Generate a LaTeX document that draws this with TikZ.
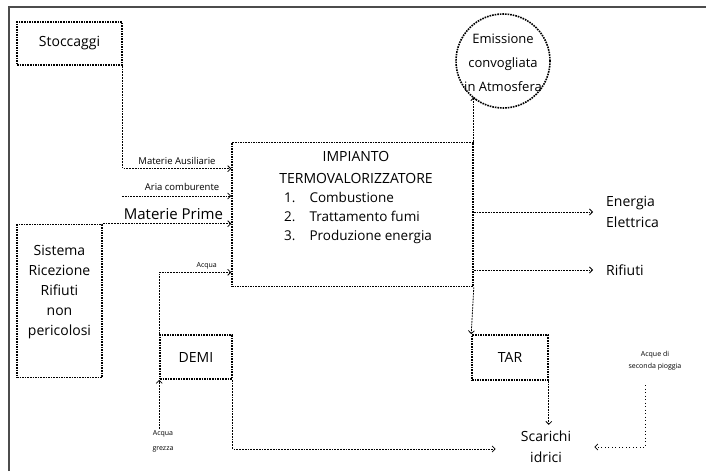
\documentclass[tikz,border=0pt]{standalone}
\usepackage{fontspec}
\setmainfont{Open Sans}
\usetikzlibrary{arrows.meta,positioning,calc}

\begin{document}
\begin{tikzpicture}[x=1pt,y=-1pt,
  blocco/.style={draw,densely dotted,line width=1.6pt,inner sep=0pt,align=center,
                 font=\fontsize{14}{20}\selectfont},
  flusso/.style={dash pattern=on 1.8pt off 1pt,line width=0.8pt,
                 -{Straight Barb[length=3pt,width=6pt]}},
  etichetta/.style={inner sep=1pt,align=center,font=\fontsize{7}{15}\selectfont},
  testo/.style={inner sep=0pt,align=center,font=\fontsize{14}{21}\selectfont}]
  \useasboundingbox (0,0) rectangle (706,471);
  %% Frame
  \draw[line width=1.2pt,black!70] (9,471) -- (9,7) -- (706,7);
  %% Blocks
  \node[blocco,minimum width=105pt,minimum height=43pt] (stoccaggi) at (69.5,43.5) {Stoccaggi};
  \node[blocco,minimum width=85pt,minimum height=153pt] (sistema) at (59.5,301) {};
  \node[testo,font=\fontsize{14}{20}\selectfont] (sistematxt) at (59.5,292)
        {Sistema\\Ricezione\\Rifiuti\\non\\pericolosi};
  \node[blocco,minimum width=241pt,minimum height=144pt] (impianto) at (352.5,214.5) {};
  \node[testo,font=\fontsize{14}{22}\selectfont] (titolo) at (356,167)
        {IMPIANTO\\TERMOVALORIZZATORE};
  \node[testo,anchor=west,font=\fontsize{13.5}{19}\selectfont] (fasi) at (284,218)
        {\begin{tabular}{@{}l@{\hspace{14pt}}l@{}}
          1. & Combustione\\
          2. & Trattamento fumi\\
          3. & Produzione energia
        \end{tabular}};
  \node[blocco,minimum width=72pt,minimum height=44pt] (demi) at (196,357) {DEMI};
  \node[blocco,minimum width=76pt,minimum height=45pt] (tar) at (510,357.5) {TAR};
  \node[blocco,circle,minimum size=94pt] (emissione) at (503,61) {};
  \node[testo,font=\fontsize{13}{24}\selectfont] (emissionetxt) at (503,63)
        {Emissione\\convogliata\\in Atmosfera};
  %% Outputs
  \node[testo,anchor=west,align=left] (energia) at (606,212) {Energia\\Elettrica};
  \node[testo,anchor=west] (rifiuti) at (606,270) {Rifiuti};
  \node[testo] (scarichi) at (546,447) {Scarichi\\idrici};
  \node[etichetta] (grezza) at (163,441) {Acqua\\grezza};
  \node[etichetta,font=\fontsize{7}{12}\selectfont] (pioggia) at (655,361) {Acque di\\seconda pioggia};
  \coordinate (aria) at (122,196);
  \coordinate (pioggiapt) at (645,385);
  %% Flows in
  \draw[flusso] (stoccaggi.south east) |- ([yshift=-27pt]impianto.north west)
        node[etichetta,pos=0.75,above=3pt,font=\fontsize{9.5}{11}\selectfont] {Materie Ausiliarie};
  \draw[flusso] (aria) -- (aria -| impianto.west)
        node[etichetta,pos=0.55,above=4pt,font=\fontsize{9.5}{11}\selectfont] {Aria comburente};
  \draw[flusso] (sistema.north east) -- (sistema.north east -| impianto.west)
        node[pos=0.55,above=3pt,inner sep=1pt,font=\fontsize{15}{18}\selectfont] {Materie Prime};
  \draw[flusso] (demi.north west) |- ([yshift=15pt]impianto.south west)
        node[etichetta,pos=0.83,above=2pt] {Acqua};
  \draw[flusso] (demi.south west |- grezza.north) -- (demi.south west);
  %% Flows out
  \draw[flusso] (impianto.north east) -- (impianto.north east |- emissione.229);
  \draw[flusso] (impianto.east |- energia.west) -- ([xshift=-13pt]energia.west);
  \draw[flusso] (impianto.east |- rifiuti.west) -- ([xshift=-13pt]rifiuti.west);
  \draw[flusso] (impianto.south east) -- (tar.north west);
  \draw[flusso] (tar.south east) -- ([yshift=6pt]tar.south east |- scarichi.north);
  \draw[flusso] (demi.south east) |- ([xshift=-25pt,yshift=-2pt]scarichi.west);
  \draw[flusso,dash pattern=on 1pt off 2.5pt] (pioggiapt) |- ([xshift=23pt]scarichi.east);
\end{tikzpicture}
\end{document}
